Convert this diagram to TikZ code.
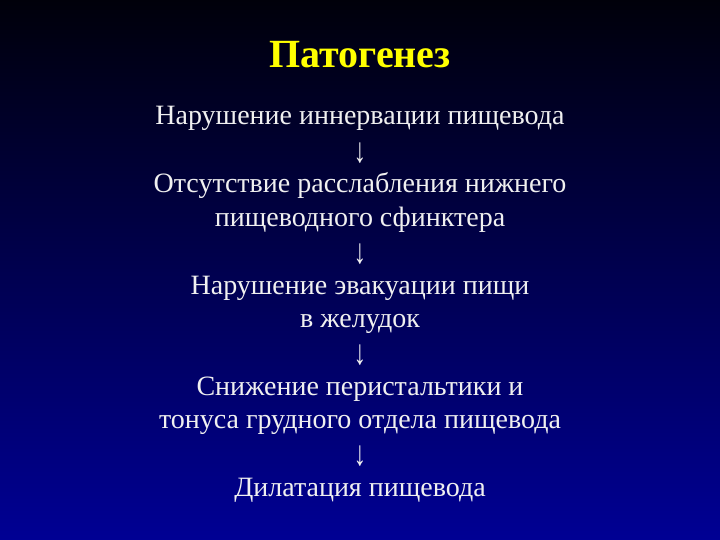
\documentclass[tikz,border=0pt]{standalone}
\usepackage{fontspec}
\setmainfont{Liberation Serif}
\definecolor{bgtop}{RGB}{0,0,10}
\definecolor{bgbot}{RGB}{0,0,148}
\definecolor{titlecol}{RGB}{255,255,0}
\definecolor{txtcol}{RGB}{240,240,240}
\tikzset{
  titletext/.style={anchor=base, text=titlecol, font=\fontsize{40}{44}\selectfont\bfseries, inner sep=0pt},
  bodytext/.style={anchor=base, text=txtcol, font=\fontsize{28}{33.6}\selectfont, inner sep=0pt},
  arrowtext/.style={anchor=center, text=txtcol, font=\fontsize{28}{33.6}\selectfont, inner sep=0pt},
}
\newcommand{\downarr}{\scalebox{0.9}[1.25]{↓}}
\begin{document}
\begin{tikzpicture}[x=1pt,y=-1pt]
\useasboundingbox (0,0) rectangle (720,540);
\shade[top color=bgtop, bottom color=bgbot] (0,0) rectangle (720,540);
\node[titletext] (title) at (360,68) {Патогенез};
\node[bodytext] (l1) at (360,125) {Нарушение иннервации пищевода};
\node[arrowtext] (a1) at (360,153.5) {\downarr};
\node[bodytext] (l2) at (360,193) {Отсутствие расслабления нижнего};
\node[bodytext] (l3) at (360,226) {пищеводного сфинктера};
\node[arrowtext] (a2) at (360,254.5) {\downarr};
\node[bodytext] (l4) at (360,294) {Нарушение эвакуации пищи};
\node[bodytext] (l5) at (360,327) {в желудок};
\node[arrowtext] (a3) at (360,355.5) {\downarr};
\node[bodytext] (l6) at (360,395) {Снижение перистальтики и};
\node[bodytext] (l7) at (360,428) {тонуса грудного отдела пищевода};
\node[arrowtext] (a4) at (360,456.5) {\downarr};
\node[bodytext] (l8) at (360,496) {Дилатация пищевода};
\end{tikzpicture}
\end{document}
